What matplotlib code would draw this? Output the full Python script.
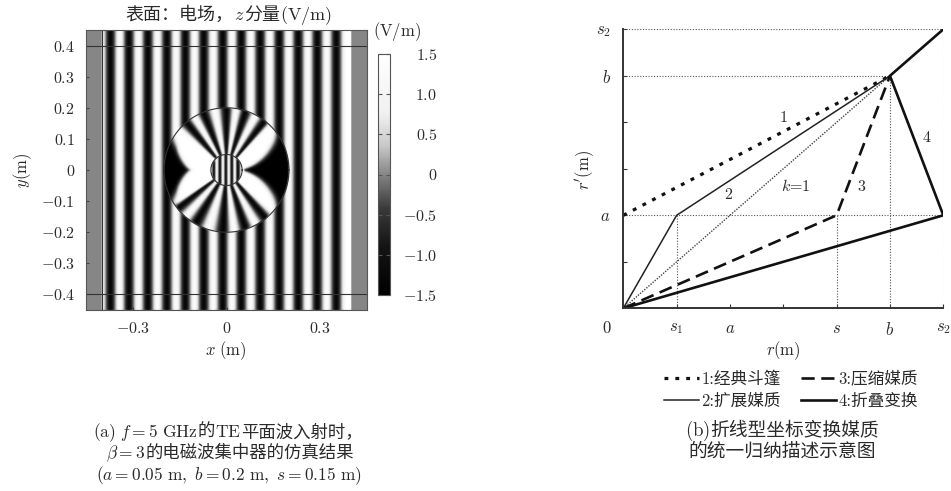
import numpy as np
import matplotlib
matplotlib.use('Agg')
import matplotlib.pyplot as plt
from matplotlib.colors import LinearSegmentedColormap
from matplotlib.font_manager import FontProperties

plt.rcParams['mathtext.fontset'] = 'cm'
plt.rcParams['font.family'] = ['cmr10', 'Noto Sans CJK SC']
plt.rcParams['axes.formatter.use_mathtext'] = True

W, H = 951, 491
CJK = 'Noto Sans CJK SC'
INK = '#2a2a2a'

# ---------- (a) field ----------
# dark stripe centres of the incident wave (m)
dark_x = [-0.372, -0.313, -0.252, -0.191, -0.132, -0.073, -0.012,
          0.047, 0.108, 0.169, 0.230, 0.291, 0.352]
edge_bright_x = [-0.402, 0.382]
# stripes in the compressed core r < a
core_dark_x = [-0.041, -0.021, -0.002, 0.017, 0.036]
# dark and bright spokes in the shell a < r < b (degrees)
spoke_deg = [0, 45, 52, 62, 72, 81, 90, 101, 112, 121, 130, 140, 212, 218, 229,
             240, 253, 267, 277, 288, 298, 309, 318, 360]
spoke_val = [1.5, 1.5, -1.5, 1.5, -1.5, 1.5, -1.5, 1.5, -1.5, 1.5, -1.5, 1.5, 1.5, -1.5, 1.5,
             -1.5, 1.5, -1.5, 1.5, -1.5, 1.5, -1.5, 1.5, 1.5]
# chevron dark lobes: half width in degrees against radius
left_lobe_r = [0.105, 0.177, 0.2]
left_lobe_deg = [0, 30, 36]
right_lobe_r = [0.055, 0.179, 0.2]
right_lobe_deg = [8, 36, 42]
a_m, b_m = 0.05, 0.2
layer_x, layer_y = 0.4, 0.4
cbar_ticks = [-1.5, -1.0, -0.5, 0, 0.5, 1.0, 1.5]
cbar_labels = ['$-1.5$', '$-1.0$', '$-0.5$', '$0$', '$0.5$', '$1.0$', '$1.5$']
xtick_a = [-0.3, 0, 0.3]
xlabel_a = ['$-0.3$', '$0$', '$0.3$']
ytick_a = [-0.4, -0.3, -0.2, -0.1, 0, 0.1, 0.2, 0.3, 0.4]
ylabel_a = ['$-0.4$', '$-0.3$', '$-0.2$', '$-0.1$', '$0$', '$0.1$', '$0.2$', '$0.3$', '$0.4$']

# ---------- (b) polylines, in tick units ----------
s1, a, s, b, s2 = 1, 2, 4, 5, 6
x1, y1 = [0, b], [a, b]
x2, y2 = [0, s1, b], [0, a, b]
x3, y3 = [0, s, b], [0, a, b]
x4, y4 = [0, s2, b, s2], [0, a, b, s2]
xk, yk = [0, b], [0, b]


def stripes(x, dark, extra):
    dark = np.array(dark)
    bright = (dark[:-1] + dark[1:]) / 2
    xs = np.concatenate([dark, bright, extra])
    vs = np.concatenate([-1.5 * np.ones(len(dark)), 1.5 * np.ones(len(bright) + len(extra))])
    order = np.argsort(xs)
    return np.interp(x, xs[order], vs[order])


def lobe(r, dtheta, lobe_r, lobe_deg):
    hw = np.interp(r, lobe_r, lobe_deg, left=-8)
    return np.clip((hw - np.abs(dtheta)) / 14 + 0.1, 0, 1)


def soften(img, sigma=2.5):
    # scanned-print look, plain separable gaussian
    n = np.arange(-8, 9)
    k = np.exp(-n ** 2 / (2 * sigma ** 2))
    k /= k.sum()
    img = np.apply_along_axis(lambda v: np.convolve(v, k, mode='same'), 0, img)
    return np.apply_along_axis(lambda v: np.convolve(v, k, mode='same'), 1, img)


grid = np.linspace(-0.45, 0.45, 1000)
X, Y = np.meshgrid(grid, grid)
R = np.hypot(X, Y)
T = np.degrees(np.arctan2(Y, X)) % 360

Z = stripes(X, dark_x, edge_bright_x)
shell = np.interp(T, spoke_deg, spoke_val)
wl = lobe(R, T - 180, left_lobe_r, left_lobe_deg)
wr = lobe(R, (T + 180) % 360 - 180, right_lobe_r, right_lobe_deg)
shell = shell * (1 - wl) * (1 - wr) - 1.5 * (1 - (1 - wl) * (1 - wr))
Z = np.where(R < b_m, shell, Z)
core = stripes(X, core_dark_x, [-0.05, 0.05])
Z = np.where(R < a_m, core, Z)
Z = soften(Z)
Z = np.where((np.abs(X) > layer_x), 0.0, Z)

cmap = LinearSegmentedColormap.from_list('field', [
    (0.0, '#000000'), (0.2, '#141414'), (0.36, '#3a3a3a'), (0.5, '#858585'),
    (0.62, '#c8c8c8'), (0.75, '#f0f0f0'), (1.0, '#ffffff')])

fig = plt.figure(figsize=(W / 100, H / 100), dpi=100)


def box(l, t, r, btm):
    return [l / W, 1 - btm / H, (r - l) / W, (btm - t) / H]


ax = fig.add_axes(box(86, 30, 367, 310))
im = ax.imshow(Z, extent=[-0.45, 0.45, -0.45, 0.45], origin='lower', cmap=cmap,
               vmin=-1.5, vmax=1.5, aspect='auto', interpolation='bilinear')
th = np.linspace(0, 2 * np.pi, 300)
for rad in [a_m, b_m]:
    ax.plot(rad * np.cos(th), rad * np.sin(th), color='#333333', lw=0.8)
ax.axhline(layer_y, color='#333333', lw=0.8)
ax.axhline(-layer_y, color='#333333', lw=0.8)
ax.axvline(-layer_x, color='#333333', lw=0.8)
ax.set_xticks(xtick_a, xlabel_a)
ax.set_yticks(ytick_a, ylabel_a)
ax.tick_params(length=2, direction='in', labelsize=11.5, color='#444444', pad=8, labelcolor=INK)
for sp in ax.spines.values():
    sp.set_color('#555555')
    sp.set_linewidth(0.8)

cax = fig.add_axes(box(378, 54, 390, 295))
cb = fig.colorbar(im, cax=cax)
cb.set_ticks(cbar_ticks, labels=cbar_labels)
cax.tick_params(direction='in', length=3, left=True, right=True, labelsize=11.5,
                pad=34, color='#555555', labelcolor=INK)
for lab in cax.get_yticklabels():
    lab.set_ha('right')
cb.outline.set_edgecolor('#555555')
cb.outline.set_linewidth(0.8)

# ---------- (b) ----------
ax2 = fig.add_axes(box(623.3, 29.3, 943.3, 308.3))
ax2.set_xlim(0, s2)
ax2.set_ylim(0, s2)
guide = dict(color='#555555', lw=0.8, ls=(0, (1, 1.5)))
ax2.plot([0, s2], [s2, s2], **guide)
ax2.plot([0, b], [b, b], **guide)
ax2.plot([0, s2], [a, a], **guide)
ax2.plot([s1, s1], [0, a], **guide)
ax2.plot([s, s], [0, a], **guide)
ax2.plot([b, b], [0, b], **guide)
ax2.plot([s2, s2], [0, s2], **guide)
ax2.plot(xk, yk, color='#444444', lw=1.0, ls=(0, (1, 1)))
l1, = ax2.plot(x1, y1, color='#111111', lw=2.3, ls=(0, (1.2, 2.2)), label='1:经典斗篷')
l2, = ax2.plot(x2, y2, color='#222222', lw=1.1, label='2:扩展媒质')
l3, = ax2.plot(x3, y3, color='#111111', lw=1.9, ls=(0, (5, 2.5)), label='3:压缩媒质')
l4, = ax2.plot(x4, y4, color='#111111', lw=1.9, label='4:折叠变换')
for t, tx, ty in [('$1$', 3.0, 4.1), ('$2$', 1.97, 2.44), ('$k$=$1$', 3.24, 2.64),
                  ('$3$', 4.46, 2.62), ('$4$', 5.69, 3.68)]:
    ax2.text(tx, ty, t, fontsize=11.5, ha='center', va='center', color=INK)
ax2.spines['top'].set_visible(False)
ax2.spines['right'].set_visible(False)
for k in ['left', 'bottom']:
    ax2.spines[k].set_linewidth(1.4)
    ax2.spines[k].set_color('#333333')
ax2.set_xticks([1, 2, 3, 4, 5, 6], ['$s_1$', '$a$', '', '$s$', '$b$', '$s_2$'])
ax2.set_yticks([1, 2, 3, 4, 5, 6], ['', '$a$', '', '', '$b$', '$s_2$'])
ax2.tick_params(direction='in', length=3, labelsize=12, pad=9, color='#333333', labelcolor=INK)

ax2.legend(handles=[l1, l2, l3, l4], ncol=2, frameon=False, loc='center',
           bbox_to_anchor=((791 - 623.3) / 320, 1 - (390 - 29.3) / 279),
           prop=FontProperties(family=['cmr10', CJK], size=12),
           handlelength=2.1, handletextpad=0.15, columnspacing=1.2, labelspacing=0.45,
           labelcolor=INK, borderpad=0)

# ---------- page text, pixel coordinates ----------
ov = fig.add_axes([0, 0, 1, 1], zorder=-1)
ov.set_xlim(0, W)
ov.set_ylim(H, 0)
ov.axis('off')
rend = fig.canvas.get_renderer()


def mixed(xc, y, pieces, size):
    # lay out math and CJK pieces side by side, centred on xc with baseline y
    items = []
    for p in pieces:
        fam = [CJK] if not p.startswith('$') else None
        t = ov.text(0, y, p, fontsize=size, va='baseline', ha='left', color=INK, family=fam)
        items.append((t, t.get_window_extent(rend).width))
    x = xc - sum(w for _, w in items) / 2
    for t, w in items:
        t.set_x(x)
        x += w


mixed(229, 20, ['表面：电场，', '$z$', '分量', r'$\mathrm{(V/m)}$'], 13)
ov.text(397, 36, r'$\mathrm{(V/m)}$', fontsize=12, ha='center', va='baseline', color=INK)
ov.text(226, 355, r'$x\ \mathrm{(m)}$', fontsize=12, ha='center', va='baseline', color=INK)
ov.text(23, 170, r'$y\mathrm{(m)}$', fontsize=12, ha='center', va='center', rotation=90, color=INK)
ov.text(607, 333, '$0$', fontsize=12, ha='center', va='baseline', color=INK)
ov.text(783, 355, r'$r\mathrm{(m)}$', fontsize=12, ha='center', va='baseline', color=INK)
ov.text(585, 170, r"$r'\mathrm{(m)}$", fontsize=12, ha='center', va='center', rotation=90, color=INK)

mixed(228, 437, [r'$\mathrm{(a)}\ f=5\ \mathrm{GHz}$', '的', r'$\mathrm{TE}$', '平面波入射时，'], 12.5)
mixed(230, 458, [r'$\beta=3$', '的电磁波集中器的仿真结果'], 12.5)
mixed(229, 480, [r'$\mathrm{(}a=0.05\ \mathrm{m,}\ b=0.2\ \mathrm{m,}\ s=0.15\ \mathrm{m)}$'], 12.5)
mixed(782, 436, [r'$\mathrm{(b)}$', '折线型坐标变换媒质'], 13.5)
mixed(782, 457, ['的统一归纳描述示意图'], 13.5)

fig.savefig('out.png', dpi=100)
